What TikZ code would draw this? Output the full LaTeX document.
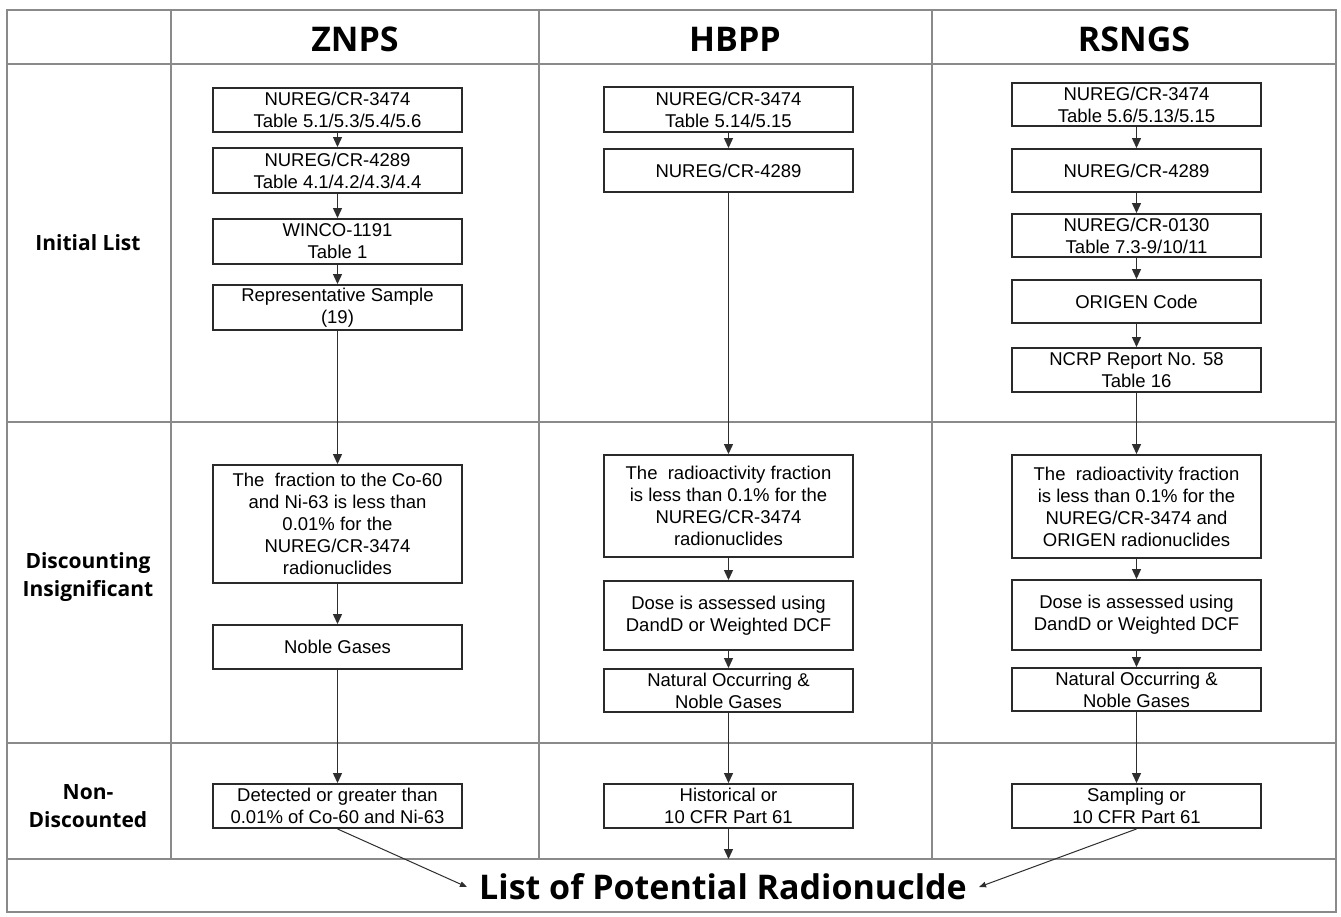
\documentclass[tikz,border=0pt]{standalone}
\usepackage{fontspec}
\usetikzlibrary{arrows.meta}
\newfontfamily\boxfont{Liberation Sans}
\newfontfamily\hdfont{Open Sans}
\definecolor{boxc}{HTML}{2A2A2A}
\definecolor{gridc}{HTML}{8A8A8A}
\definecolor{linec}{HTML}{2E2E2E}
\tikzset{
  box/.style={draw=boxc, line width=1.9pt, minimum width=249pt, fill=white, align=center, inner sep=0pt,
    font=\boxfont\fontsize{18.5}{22}\selectfont},
  grid/.style={draw=gridc, line width=1.3pt},
  flow/.style={draw=linec, line width=1.2pt, -{Triangle[length=10pt,width=9pt]}},
  flowthin/.style={draw=linec, line width=1pt, -{Triangle[length=7pt,width=5.5pt]}},
  hdr/.style={font=\hdfont\bfseries\fontsize{34}{40}\selectfont, inner sep=0pt},
  side/.style={font=\hdfont\bfseries\fontsize{21}{28}\selectfont, align=center, inner sep=0pt},
}
\begin{document}
\begin{tikzpicture}[x=1pt,y=-1pt]
\useasboundingbox (0,0) rectangle (1341,916);
\fill[white] (0,0) rectangle (1341,916);
% table grid
\draw[grid] (7,10) rectangle (1336,912);
\draw[grid] (7,64) -- (1336,64);
\draw[grid] (7,422) -- (1336,422);
\draw[grid] (7,743) -- (1336,743);
\draw[grid] (7,859) -- (1336,859);
\draw[grid] (171,10) -- (171,859);
\draw[grid] (539,10) -- (539,859);
\draw[grid] (932,10) -- (932,859);
% headers
\node[hdr] (hz) at (355,39) {ZNPS};
\node[hdr] (hh) at (735,39) {HBPP};
\node[hdr] (hr) at (1134,39) {RSNGS};
% side labels
\node[side] (s1) at (88,243) {Initial List};
\node[side] (s2) at (88,577) {Discounting\\Insignificant};
\node[side] (s3) at (88,806) {Non-\\Discounted};
% ZNPS
\node[box, minimum height=44pt] (z1) at (337.5,110) {NUREG/CR-3474\\Table 5.1/5.3/5.4/5.6};
\node[box, minimum height=45pt] (z2) at (337.5,170.5) {NUREG/CR-4289\\Table 4.1/4.2/4.3/4.4};
\node[box, minimum height=45pt] (z3) at (337.5,241.5) {WINCO-1191\\Table 1};
\node[box, minimum height=45pt] (z4) at (337.5,307.5) {Representative Sample\\(19)};
\node[box, minimum height=118pt] (z5) at (337.5,524) {The\ \ fraction to the Co-60\\and Ni-63 is less than\\0.01\% for the\\NUREG/CR-3474\\radionuclides};
\node[box, minimum height=44pt] (z6) at (337.5,647) {Noble Gases};
\node[box, minimum height=44pt] (z7) at (337.5,806) {Detected or greater than\\0.01\% of Co-60 and Ni-63};
% HBPP
\node[box, minimum height=45pt] (h1) at (728.5,109.5) {NUREG/CR-3474\\Table 5.14/5.15};
\node[box, minimum height=43pt] (h2) at (728.5,170.5) {NUREG/CR-4289};
\node[box, minimum height=102pt] (h3) at (728.5,506) {The\ \ radioactivity fraction\\is less than 0.1\% for the\\NUREG/CR-3474\\radionuclides};
\node[box, minimum height=69pt] (h4) at (728.5,615.5) {Dose is assessed using\\DandD or Weighted DCF};
\node[box, minimum height=43pt] (h5) at (728.5,690.5) {Natural Occurring \&\\Noble Gases};
\node[box, minimum height=44pt] (h6) at (728.5,806) {Historical or\\10 CFR Part 61};
\coordinate (hend) at (728.5,859);
% RSNGS
\node[box, minimum height=43pt] (r1) at (1136.5,104.5) {NUREG/CR-3474\\Table 5.6/5.13/5.15};
\node[box, minimum height=43pt] (r2) at (1136.5,170.5) {NUREG/CR-4289};
\node[box, minimum height=43pt] (r3) at (1136.5,235.5) {NUREG/CR-0130\\Table 7.3-9/10/11};
\node[box, minimum height=43pt] (r4) at (1136.5,301.5) {ORIGEN Code};
\node[box, minimum height=44pt] (r5) at (1136.5,370) {NCRP Report No. 58\\Table 16};
\node[box, minimum height=103pt] (r6) at (1136.5,506.5) {The\ \ radioactivity fraction\\is less than 0.1\% for the\\NUREG/CR-3474 and\\ORIGEN radionuclides};
\node[box, minimum height=70pt] (r7) at (1136.5,615) {Dose is assessed using\\DandD or Weighted DCF};
\node[box, minimum height=43pt] (r8) at (1136.5,689.5) {Natural Occurring \&\\Noble Gases};
\node[box, minimum height=44pt] (r9) at (1136.5,806) {Sampling or\\10 CFR Part 61};
% bottom
\node[font=\hdfont\bfseries\fontsize{34}{40}\selectfont, inner xsep=12pt, inner ysep=0pt] (list) at (723,887) {List of Potential Radionuclde};
% connectors
\foreach \a/\b in {z1/z2,z2/z3,z3/z4,z4/z5,z5/z6,z6/z7,h1/h2,h2/h3,h3/h4,h4/h5,h5/h6,r1/r2,r2/r3,r3/r4,r4/r5,r5/r6,r6/r7,r7/r8,r8/r9}
  \draw[flow] (\a.south) -- (\b.north);
\draw[flow] (h6.south) -- (hend);
\draw[flowthin] (z7.south) -- (list.west);
\draw[flowthin] (r9.south) -- (list.east);
\end{tikzpicture}
\end{document}
